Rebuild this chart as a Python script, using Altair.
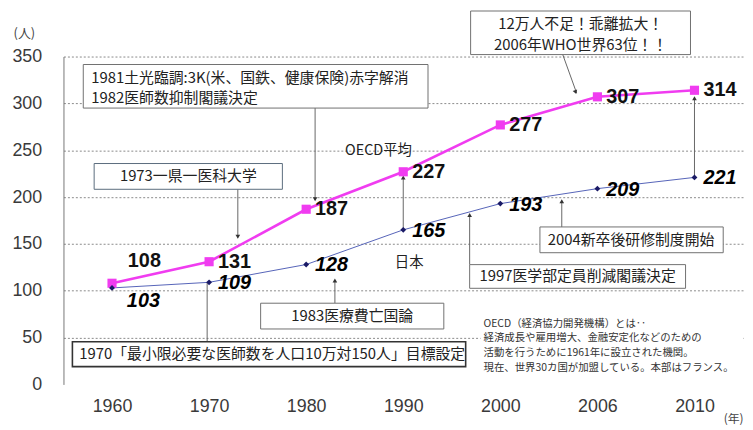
import json
import altair as alt
import pandas as pd

# ---- chart values ----
years = ["1960", "1970", "1980", "1990", "2000", "2006", "2010"]
oecd = [108, 131, 187, 227, 277, 307, 314]
japan = [103, 109, 128, 165, 193, 209, 221]
y_ticks = [0, 50, 100, 150, 200, 250, 300, 350]

idx = list(range(len(years)))
oecd_df = pd.DataFrame({"i": idx, "year": years, "v": oecd})
japan_df = pd.DataFrame({"i": idx, "year": years, "v": japan})

# annotation boxes in data units (x = category index, y = value)
boxes = pd.DataFrame([
    {"x": -0.296, "x2": 3.255, "y": 341.5, "y2": 295.0, "k": "a"},
    {"x": 3.694, "x2": 5.959, "y": 398.6, "y2": 352.1, "k": "a"},
    {"x": -0.184, "x2": 1.755, "y": 235.8, "y2": 208.3, "k": "b"},
    {"x": 4.408, "x2": 6.296, "y": 168.1, "y2": 140.6, "k": "a"},
    {"x": 3.684, "x2": 5.908, "y": 127.9, "y2": 102.6, "k": "a"},
    {"x": 1.531, "x2": 3.418, "y": 86.7, "y2": 59.2, "k": "a"},
    {"x": -0.408, "x2": 3.643, "y": 45.5, "y2": 19.0, "k": "c"},
])
note_bg = pd.DataFrame([{"x": 3.796, "x2": 6.5, "y": 71.9, "y2": 10.6}])

arrows = pd.DataFrame([
    {"x": 2.092, "x2": 2.092, "y": 295.0, "y2": 197.0},
    {"x": 4.643, "x2": 4.786, "y": 352.1, "y2": 311.0},
    {"x": 1.296, "x2": 1.296, "y": 208.3, "y2": 157.0},
    {"x": 4.633, "x2": 4.633, "y": 140.6, "y2": 196.0},
    {"x": 3.684, "x2": 3.684, "y": 127.9, "y2": 181.0},
    {"x": 2.296, "x2": 2.296, "y": 86.7, "y2": 111.5},
    {"x": 0.980, "x2": 0.980, "y": 45.5, "y2": 109.0},
    {"x": 3.0, "x2": 3.0, "y": 165.0, "y2": 221.0},
    {"x": 6.0, "x2": 6.0, "y": 221.0, "y2": 305.0},
])
heads = pd.DataFrame([
    {"x": 2.092, "y": 197.7, "shape": "triangle-down", "a": 0},
    {"x": 4.775, "y": 312.0, "shape": "triangle-down", "a": 341},
    {"x": 1.296, "y": 157.6, "shape": "triangle-down", "a": 0},
    {"x": 4.633, "y": 195.6, "shape": "triangle-up", "a": 0},
    {"x": 3.684, "y": 180.8, "shape": "triangle-up", "a": 0},
    {"x": 2.296, "y": 111.0, "shape": "triangle-up", "a": 0},
    {"x": 3.0, "y": 221.0, "shape": "triangle-up", "a": 0},
    {"x": 6.0, "y": 305.6, "shape": "triangle-up", "a": 0},
])

box1_texts = pd.DataFrame([
    {"x": -0.214, "y": 327.0, "t": "1981土光臨調:3K(米、国鉄、健康保険)赤字解消"},
    {"x": -0.214, "y": 305.6, "t": "1982医師数抑制閣議決定"},
])
left_texts = pd.DataFrame([
    {"x": -0.337, "y": 32.8, "t": "1970「最小限必要な医師数を人口10万対150人」目標設定"},
])
center_texts = pd.DataFrame([
    {"x": 0.786, "y": 222.1, "t": "1973一県一医科大学"},
    {"x": 4.827, "y": 384.2, "t": "12万人不足！乖離拡大！"},
    {"x": 4.827, "y": 362.6, "t": "2006年WHO世界63位！！"},
    {"x": 5.347, "y": 154.4, "t": "2004新卒後研修制度開始"},
    {"x": 4.796, "y": 115.3, "t": "1997医学部定員削減閣議決定"},
    {"x": 2.474, "y": 72.9, "t": "1983医療費亡国論"},
])
series_texts = pd.DataFrame([
    {"x": 2.745, "y": 249.5, "t": "OECD平均"},
    {"x": 3.061, "y": 130.1, "t": "日本"},
])
note_texts = pd.DataFrame([
    {"x": 3.827, "y": 64.5, "t": "OECD（経済協力開発機構）とは‥"},
    {"x": 3.827, "y": 49.0, "t": "経済成長や雇用増大、金融安定化などのための"},
    {"x": 3.827, "y": 33.4, "t": "活動を行うために1961年に設立された機関。"},
    {"x": 3.827, "y": 17.8, "t": "現在、世界30カ国が加盟している。本部はフランス。"},
])

# ---- scales / axes ----
xs = alt.Scale(domain=[-0.5, len(years) - 0.5], nice=False, zero=False)
ys = alt.Scale(domain=[0, 350], nice=False, zero=False)

JP = "Noto Sans CJK JP"
NUM = "Liberation Sans"
MAG = "#F03CF0"
NAVY = "#1A1A66"

label_expr = json.dumps(years) + "[datum.value]"

x_axis = alt.Axis(
    values=idx, labelExpr=label_expr, grid=False, domain=False, ticks=False,
    tickSize=0, labelPadding=22, labelBaseline="middle", labelFontSize=18,
    labelFont="Liberation Sans", labelFontWeight="normal", labelColor="#3a3a3a",
    title="(年)", titleX=676, titleY=34, titleAngle=0, titleAlign="center",
    titleBaseline="middle", titleFontSize=12, titleFontWeight="normal",
    titleFont=JP, titleColor="#444444",
)
y_axis = alt.Axis(
    values=y_ticks, grid=True, gridDash=[2, 2], gridColor="#8a8a8a", gridWidth=1,
    gridOpacity={"condition": {"test": "datum.value == 0", "value": 0}, "value": 1},
    domain=True, domainColor="#777777", ticks=False, tickSize=0,
    labelPadding=22, labelFontSize=18, labelFont="Liberation Sans",
    labelFontWeight="normal", labelColor="#3a3a3a",
    title="(人)", titleX=-40, titleY=-23, titleAngle=0, titleAlign="center",
    titleBaseline="middle", titleFontSize=13, titleFontWeight="normal",
    titleFont=JP, titleColor="#444444",
)


def X(f="x"):
    return alt.X(f + ":Q", scale=xs, axis=x_axis)


def Y(f="y"):
    return alt.Y(f + ":Q", scale=ys, axis=y_axis)


base_o = alt.Chart(oecd_df)
base_j = alt.Chart(japan_df)

note_bg_layer = alt.Chart(note_bg).mark_rect(fill="white").encode(
    x=X("x"), x2="x2:Q", y=Y("y"), y2="y2:Q")

japan_line = base_j.mark_line(color="#5563B8", strokeWidth=1).encode(x=X("i"), y=Y("v"))
oecd_line = base_o.mark_line(color=MAG, strokeWidth=2.6).encode(x=X("i"), y=Y("v"))

arrow_layer = alt.Chart(arrows).mark_rule(color="#666666", strokeWidth=1).encode(
    x=X("x"), x2="x2:Q", y=Y("y"), y2="y2:Q")
head_layer = alt.Chart(heads).mark_point(filled=True, color="#333333", size=22, opacity=1).encode(
    x=X("x"), y=Y("y"),
    shape=alt.Shape("shape:N", scale=None, legend=None),
    angle=alt.Angle("a:Q", scale=None))

oecd_pts = base_o.mark_point(shape="square", filled=True, color=MAG, size=85, opacity=1).encode(
    x=X("i"), y=Y("v"))
japan_pts = base_j.mark_point(shape="diamond", filled=True, color=NAVY, size=35, opacity=1).encode(
    x=X("i"), y=Y("v"))


def box_layer(kind, stroke, width):
    return alt.Chart(boxes).transform_filter(alt.datum.k == kind).mark_rect(
        fill="white", stroke=stroke, strokeWidth=width).encode(
        x=X("x"), x2="x2:Q", y=Y("y"), y2="y2:Q")


boxes_a = box_layer("a", "#707070", 1)
boxes_b = box_layer("b", "#5A6B7C", 1)
boxes_c = box_layer("c", "#333333", 1.6)

oecd_lab = base_o.transform_filter(alt.datum.i > 0).mark_text(
    align="left", baseline="middle", dx=9, dy=0, font=NUM, fontSize=20,
    fontWeight="bold", color="#111111").encode(x=X("i"), y=Y("v"), text="v:Q")
oecd_lab0 = base_o.transform_filter(alt.datum.i == 0).mark_text(
    align="left", baseline="middle", dx=16, dy=-22, font=NUM, fontSize=20,
    fontWeight="bold", color="#111111").encode(x=X("i"), y=Y("v"), text="v:Q")
japan_lab = base_j.transform_filter(alt.datum.i > 0).mark_text(
    align="left", baseline="middle", dx=9, dy=1, font=NUM, fontSize=20,
    fontWeight="bold", fontStyle="italic", color="#000000").encode(x=X("i"), y=Y("v"), text="v:Q")
japan_lab0 = base_j.transform_filter(alt.datum.i == 0).mark_text(
    align="left", baseline="middle", dx=15, dy=13, font=NUM, fontSize=20,
    fontWeight="bold", fontStyle="italic", color="#000000").encode(x=X("i"), y=Y("v"), text="v:Q")

box1_layer = alt.Chart(box1_texts).mark_text(
    align="left", baseline="middle", font=JP, fontSize=15, color="#222222").encode(
    x=X("x"), y=Y("y"), text="t:N")
left_layer = alt.Chart(left_texts).mark_text(
    align="left", baseline="middle", font=JP, fontSize=15, color="#222222").encode(
    x=X("x"), y=Y("y"), text="t:N")
center_layer = alt.Chart(center_texts).mark_text(
    align="center", baseline="middle", font=JP, fontSize=15, color="#222222").encode(
    x=X("x"), y=Y("y"), text="t:N")
series_layer = alt.Chart(series_texts).mark_text(
    align="center", baseline="middle", font=JP, fontSize=14.5, color="#222222").encode(
    x=X("x"), y=Y("y"), text="t:N")
note_layer = alt.Chart(note_texts).mark_text(
    align="left", baseline="middle", font=JP, fontSize=10.5, color="#333333").encode(
    x=X("x"), y=Y("y"), text="t:N")

chart = alt.layer(
    note_bg_layer, japan_line, oecd_line, arrow_layer,
    boxes_a, boxes_b, boxes_c, head_layer, oecd_pts, japan_pts,
    oecd_lab, oecd_lab0, japan_lab, japan_lab0,
    box1_layer, left_layer, center_layer, series_layer, note_layer,
).properties(
    width=686, height=331,
    autosize=alt.AutoSizeParams(type="none"),
    padding={"left": 56, "top": 47, "right": 2, "bottom": 44},
).configure(background="white", view=alt.ViewConfig(stroke=None))

chart.save("out.html", embed_options={"renderer": "svg", "actions": False})
